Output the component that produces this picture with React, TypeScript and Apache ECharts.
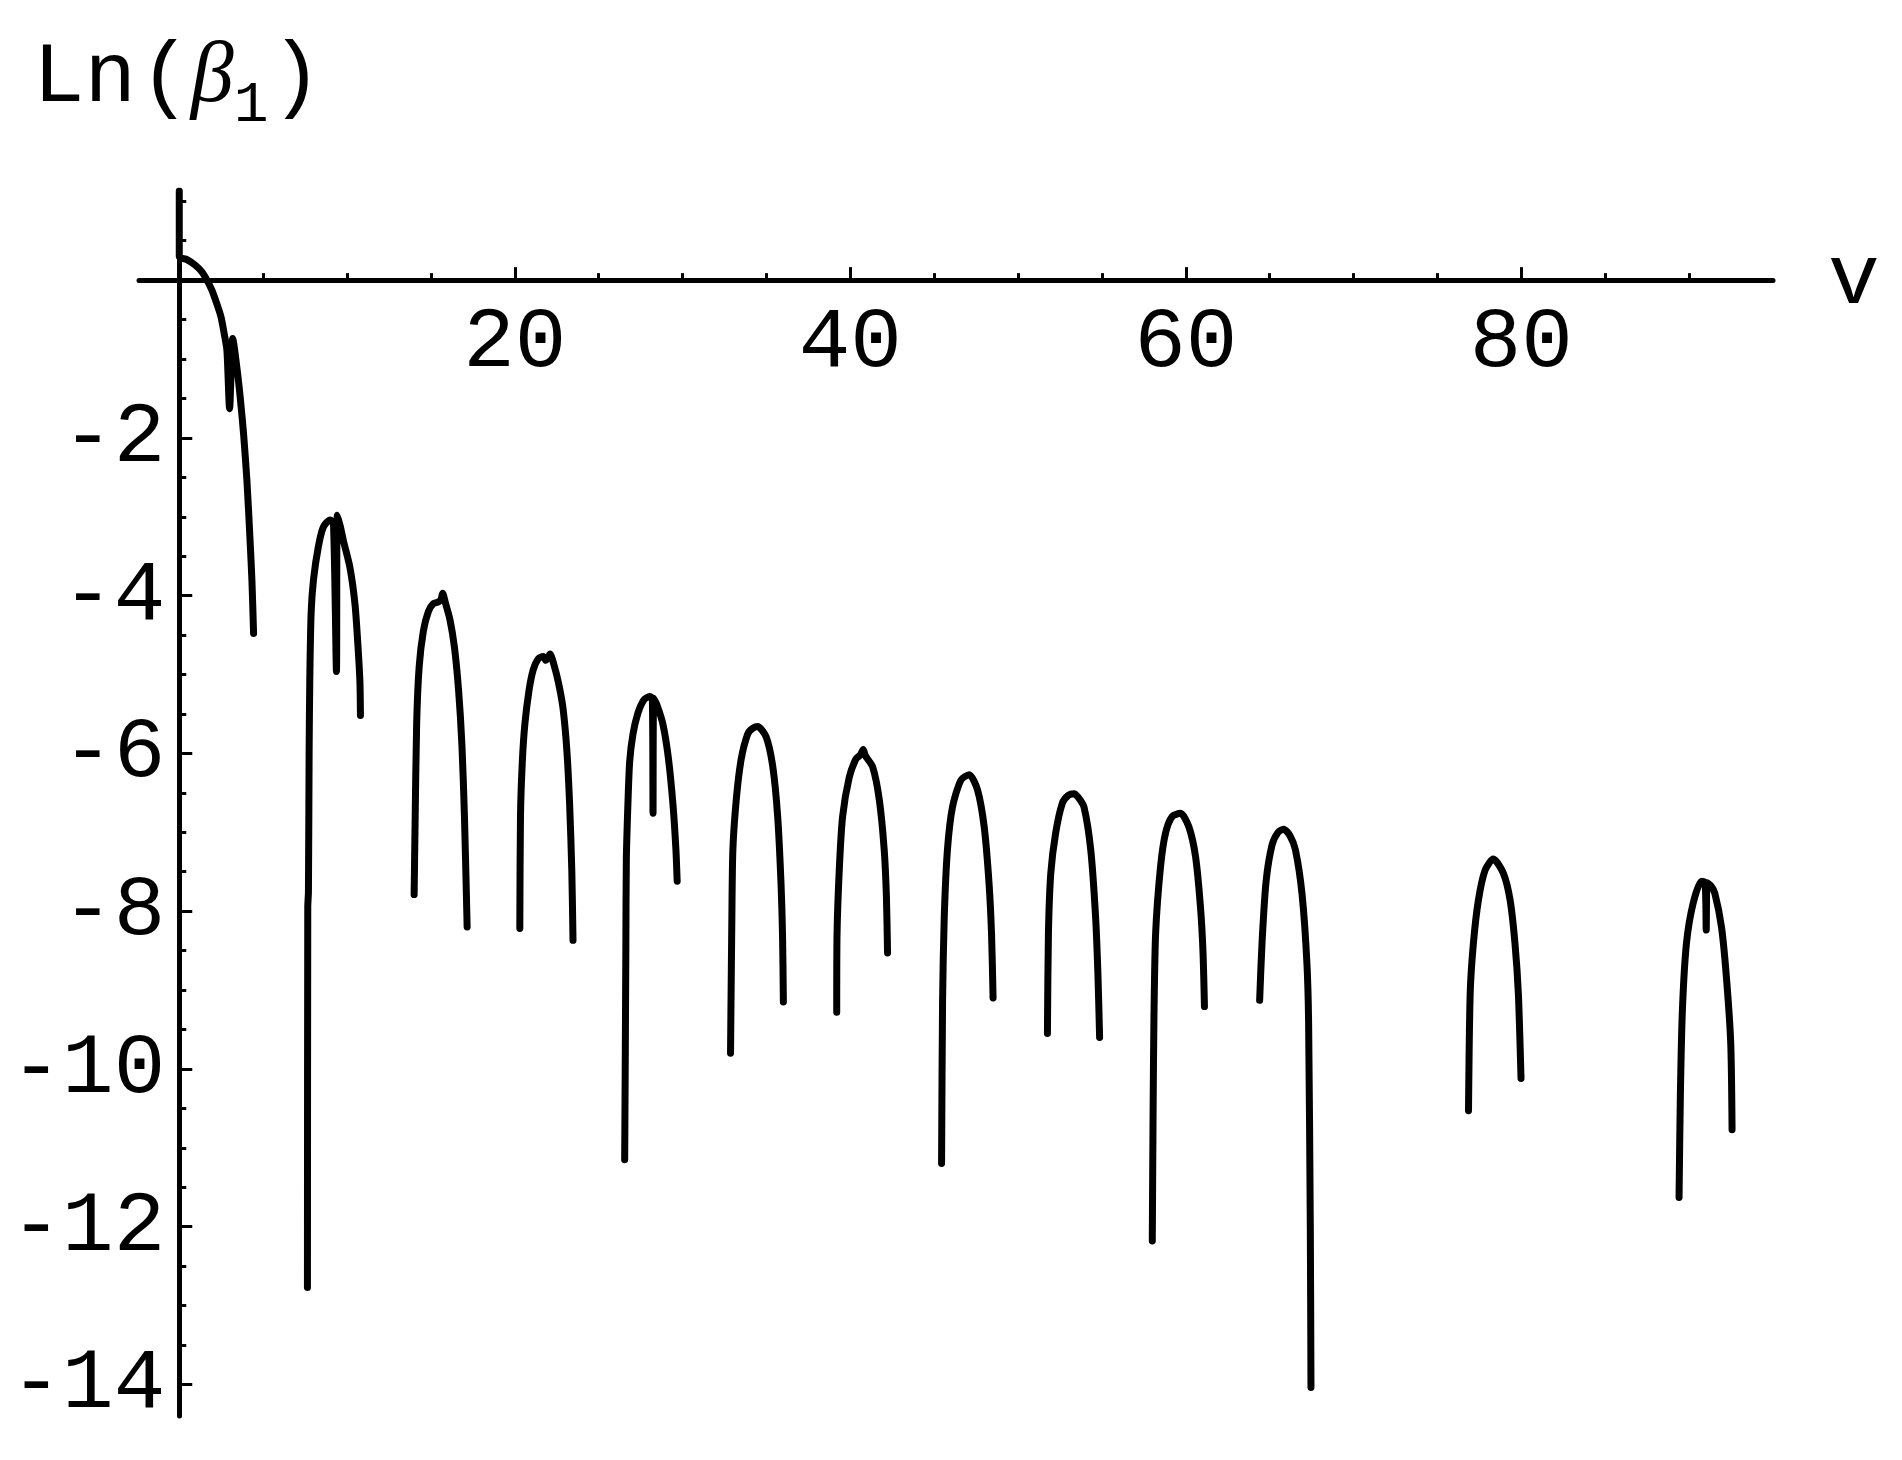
import React, { useEffect, useRef } from 'react';
import * as echarts from 'echarts';

// Axis ticks / labels
const xMajorTicks = [20, 40, 60, 80];
const xMinorTicks = [5, 10, 15, 25, 30, 35, 45, 50, 55, 65, 70, 75, 85, 90];
const yMajorTicks = [-14, -12, -10, -8, -6, -4, -2];
const yMinorTicks = [
  -13.5, -13, -12.5, -11.5, -11, -10.5, -9.5, -9, -8.5, -7.5, -7, -6.5,
  -5.5, -5, -4.5, -3.5, -3, -2.5, -1.5, -1, -0.5, 0.5, 1,
];
const xRange = [-2.4, 95];
const yRange = [-14.4, 1.13];

// Curve pieces: [v, Ln(beta1)]
const seg0: number[][] = [
  [0, 1.13], [0, 0.3], [0.46, 0.26], [0.95, 0.19], [1.35, 0.105], [1.65, 0],
  [1.95, -0.13], [2.24, -0.3], [2.48, -0.46], [2.68, -0.68], [2.84, -0.89],
  [3.0, -1.63], [3.19, -0.74], [3.43, -1.1], [3.63, -1.48], [3.83, -1.94],
  [4.03, -2.53], [4.19, -3.17], [4.33, -3.8], [4.43, -4.48],
];
const arch1: number[][] = [
  [7.64, -12.77], [7.66, -7.95], [7.7, -7.75], [7.74, -6.0], [7.78, -5.07],
  [7.86, -4.22], [8.0, -3.8], [8.29, -3.38], [8.59, -3.13], [8.99, -3.04],
  [9.19, -3.08], [9.37, -4.96], [9.42, -2.98], [9.6, -3.12], [9.78, -3.3],
  [10.18, -3.65], [10.48, -4.12], [10.67, -4.7], [10.77, -5.1], [10.8, -5.52],
];
const arch2: number[][] = [
  [14.0, -7.79], [14.05, -7.0], [14.15, -5.63], [14.3, -4.9], [14.55, -4.45],
  [14.85, -4.2], [15.15, -4.1], [15.45, -4.08], [15.6, -4.05], [15.7, -3.97],
  [15.85, -4.08], [16.13, -4.3], [16.4, -4.65], [16.65, -5.2], [16.85, -5.9],
  [17.0, -6.8], [17.16, -8.2],
];
const arch3: number[][] = [
  [20.3, -8.22], [20.34, -6.79], [20.45, -6.1], [20.6, -5.63], [20.85, -5.2],
  [21.1, -4.94], [21.4, -4.8], [21.7, -4.77], [21.85, -4.82], [22.0, -4.78],
  [22.1, -4.74], [22.3, -4.85], [22.6, -5.1], [22.87, -5.42], [23.1, -5.95],
  [23.27, -6.65], [23.4, -7.5], [23.47, -8.37],
];
const arch4: number[][] = [
  [26.55, -11.15], [26.58, -10.09], [26.62, -8.5], [26.65, -7.34], [26.75, -6.6],
  [26.85, -6.1], [27.05, -5.75], [27.34, -5.49], [27.7, -5.32], [28.04, -5.28],
  [28.2, -5.3], [28.24, -6.76], [28.28, -5.3], [28.5, -5.4], [28.83, -5.63],
  [29.15, -6.05], [29.43, -6.65], [29.6, -7.2], [29.68, -7.62],
];
const arch5: number[][] = [
  [32.86, -9.8], [32.94, -8.07], [33.0, -7.22], [33.2, -6.59], [33.49, -6.08],
  [33.89, -5.75], [34.2, -5.68], [34.48, -5.66], [34.98, -5.79], [35.38, -6.17],
  [35.67, -6.8], [35.87, -7.65], [35.96, -8.3], [36.01, -9.15],
];
const arch6: number[][] = [
  [39.19, -9.28], [39.21, -8.28], [39.35, -7.44], [39.54, -6.8], [39.94, -6.3],
  [40.34, -6.07], [40.6, -6.02], [40.77, -5.95], [40.9, -6.03], [41.33, -6.17],
  [41.73, -6.59], [42.02, -7.22], [42.15, -7.8], [42.22, -8.53],
];
const arch7: number[][] = [
  [45.44, -11.2], [45.5, -9.13], [45.6, -8.07], [45.79, -7.22], [46.09, -6.68],
  [46.59, -6.34], [47.08, -6.27], [47.58, -6.46], [47.98, -6.93], [48.27, -7.65],
  [48.42, -8.3], [48.51, -9.1],
];
const arch8: number[][] = [
  [51.75, -9.55], [51.81, -8.28], [51.95, -7.52], [52.24, -7.01], [52.64, -6.63],
  [53.0, -6.53], [53.33, -6.51], [53.6, -6.56], [53.93, -6.68], [54.33, -7.22],
  [54.62, -8.07], [54.76, -8.8], [54.86, -9.6],
];
const arch9: number[][] = [
  [58.0, -12.18], [58.05, -10.5], [58.1, -9.34], [58.2, -8.28], [58.49, -7.44],
  [58.79, -7.01], [59.18, -6.8], [59.68, -6.76], [60.18, -6.93], [60.58, -7.31],
  [60.87, -7.94], [61.02, -8.5], [61.11, -9.21],
];
const arch10: number[][] = [
  [64.4, -9.13], [64.54, -8.41], [64.78, -7.63], [65.14, -7.16], [65.5, -7.0],
  [65.83, -6.96], [66.2, -7.04], [66.53, -7.22], [66.93, -7.79], [67.22, -8.67],
  [67.32, -9.44], [67.42, -12.03], [67.46, -14.04],
];
const arch11: number[][] = [
  [76.85, -10.53], [76.95, -9.04], [77.14, -8.41], [77.44, -7.86], [77.84, -7.48],
  [78.33, -7.34], [78.93, -7.52], [79.33, -7.86], [79.62, -8.41], [79.82, -9.04],
  [79.98, -10.12],
];
const arch12: number[][] = [
  [89.4, -11.63], [89.48, -10.31], [89.6, -9.25], [89.84, -8.41], [90.24, -7.9],
  [90.74, -7.62], [90.95, -7.64], [91.02, -8.24], [91.08, -7.64], [91.3, -7.68],
  [91.53, -7.77], [91.93, -8.2], [92.22, -8.83], [92.48, -9.67], [92.56, -10.77],
];

const segments = [seg0, arch1, arch2, arch3, arch4, arch5, arch6, arch7, arch8, arch9, arch10, arch11, arch12];

const MONO = '"Liberation Mono", "DejaVu Sans Mono", monospace';
const SERIF = '"Liberation Serif", "DejaVu Serif", serif';
const BIG = 86;

// layout of the plotting area (pixels)
const GRID = { left: 139, right: 129, top: 191, bottom: 44 };
const W = 1902;
const H = 1460;

export default function App() {
  const ref = useRef<HTMLDivElement>(null);
  useEffect(() => {
    if (!ref.current) return;
    const chart = echarts.init(ref.current, null, { renderer: 'svg' });
    const gw = W - GRID.left - GRID.right;
    const gh = H - GRID.top - GRID.bottom;
    // distance from grid edges to the zero lines (where the axes cross)
    const zeroFromLeft = (gw * (0 - xRange[0])) / (xRange[1] - xRange[0]);
    const zeroFromBottom = (gh * (0 - yRange[0])) / (yRange[1] - yRange[0]);
    const axisLineStyle = { color: '#000', width: 5 };
    const tickLineStyle = { color: '#000', width: 3 };
    const labelStyle = { fontFamily: MONO, fontSize: BIG, color: '#000' };
    const option: any = {
      animation: false,
      backgroundColor: '#fff',
      grid: { ...GRID, containLabel: false, outerBoundsMode: 'none' },
      xAxis: [
        {
          type: 'value', min: xRange[0], max: xRange[1], position: 'bottom',
          name: 'v', nameLocation: 'end', nameGap: 55,
          nameTextStyle: { ...labelStyle, padding: [24, 0, 0, 0] },
          axisLine: { show: true, onZero: true, onZeroAxisIndex: 0, lineStyle: axisLineStyle },
          axisTick: { show: true, inside: true, length: 13, customValues: xMajorTicks, lineStyle: tickLineStyle },
          axisLabel: { show: false },
          splitLine: { show: false },
        },
        {
          type: 'value', min: xRange[0], max: xRange[1], position: 'bottom',
          axisLine: { show: false, onZero: true, onZeroAxisIndex: 0 },
          axisTick: { show: true, inside: true, length: 7, customValues: xMinorTicks, lineStyle: tickLineStyle },
          axisLabel: { show: false },
          splitLine: { show: false },
        },
        {
          type: 'value', min: xRange[0], max: xRange[1], position: 'bottom',
          offset: -zeroFromBottom,
          axisLine: { show: false, onZero: false },
          axisTick: { show: false },
          axisLabel: { show: true, customValues: xMajorTicks, margin: 20, ...labelStyle },
          splitLine: { show: false },
        },
      ],
      yAxis: [
        {
          type: 'value', min: yRange[0], max: yRange[1], position: 'left',
          axisLine: { show: true, onZero: true, onZeroAxisIndex: 0, lineStyle: axisLineStyle },
          axisTick: { show: true, inside: true, length: 13, customValues: yMajorTicks, lineStyle: tickLineStyle },
          axisLabel: { show: false },
          splitLine: { show: false },
        },
        {
          type: 'value', min: yRange[0], max: yRange[1], position: 'left',
          axisLine: { show: false, onZero: true, onZeroAxisIndex: 0 },
          axisTick: { show: true, inside: true, length: 7, customValues: yMinorTicks, lineStyle: tickLineStyle },
          axisLabel: { show: false },
          splitLine: { show: false },
        },
        {
          type: 'value', min: yRange[0], max: yRange[1], position: 'left',
          offset: -zeroFromLeft,
          axisLine: { show: false, onZero: false },
          axisTick: { show: false },
          axisLabel: { show: true, customValues: yMajorTicks, margin: 14, ...labelStyle, padding: [11, 0, 0, 0] },
          splitLine: { show: false },
        },
      ],
      graphic: [
        {
          type: 'text', x: 33, y: 35,
          style: {
            text: '{ln|Ln}{lp|(}{b|β}{s|1}{rp|)}',
            fill: '#000',
            textAlign: 'left',
            textVerticalAlign: 'top',
            rich: {
              ln: { fontFamily: MONO, fontSize: BIG, lineHeight: BIG, fill: '#000' },
              lp: { fontFamily: MONO, fontSize: BIG, lineHeight: BIG, fill: '#000', padding: [0, 0, 0, 3] },
              b: { fontFamily: SERIF, fontStyle: 'italic', fontSize: BIG, lineHeight: BIG, fill: '#000', padding: [0, 0, 12, 0] },
              s: { fontFamily: MONO, fontSize: 58, lineHeight: 58, fill: '#000', verticalAlign: 'top', padding: [41, 2, 0, 0] },
              rp: { fontFamily: MONO, fontSize: BIG, lineHeight: BIG, fill: '#000' },
            },
          },
        },
      ],
      series: segments.map((seg, i) => ({
        name: 'seg' + i,
        type: 'line',
        xAxisIndex: 0,
        yAxisIndex: 0,
        data: seg,
        showSymbol: false,
        symbol: 'none',
        smooth: 0.25,
        clip: true,
        silent: true,
        lineStyle: { color: '#000', width: 7, join: 'round', cap: 'round' },
        z: 5,
      })),
    };
    chart.setOption(option);
    return () => chart.dispose();
  }, []);
  return <div ref={ref} style={{ position: 'fixed', left: 0, top: 0, width: W, height: H }} />;
}
